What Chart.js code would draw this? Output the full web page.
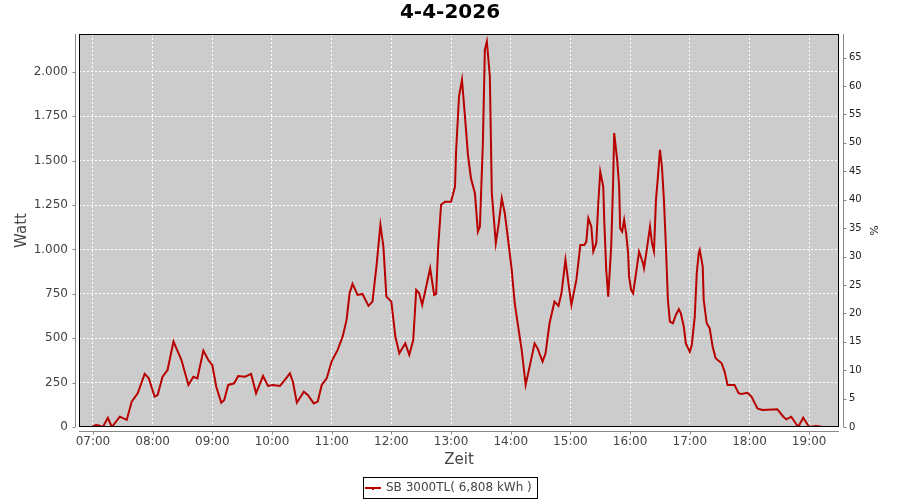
<!DOCTYPE html>
<html>
<head>
<meta charset="utf-8">
<script src="https://cdn.jsdelivr.net/npm/chart.js@4.4.1/dist/chart.umd.min.js"></script>
<style>
  html, body { margin: 0; padding: 0; background: #fff; }
</style>
</head>
<body>
<canvas id="chart" width="900" height="500"></canvas>
<script>
const chartTitle = '4-4-2026';
const seriesLabel = 'SB 3000TL( 6,808 kWh )';
const xTitle = 'Zeit';
const yTitle = 'Watt';
const y2Title = '%';

// minutes after 07:00
const minutes = [
  -1, 3, 6, 10, 15, 19, 27, 34, 39, 45, 52, 56, 62, 65, 70, 75, 81, 89, 96, 101,
  105, 111, 116, 120, 124, 129, 132, 136, 142, 146, 153, 159, 164, 171, 176, 181, 188, 193, 198, 201,
  205, 212, 216, 222, 226, 230, 235, 240, 246, 251, 255, 258, 261, 266, 271, 277, 281, 285, 289, 292,
  295, 300, 304, 308, 314, 318, 322, 325, 328, 331, 335, 339, 343, 345, 347, 350, 354, 360, 364, 365,
  368, 371, 374, 377, 380, 384, 387, 389, 392, 394, 396, 399, 401, 405, 408, 411, 414, 417, 421, 424,
  427, 431, 435, 439, 444, 447, 452, 455, 459, 464, 468, 471, 475, 478, 481, 486, 490, 494, 496, 498,
  501, 503, 506, 508, 510, 513, 514, 516, 518, 521, 523, 524, 527, 529, 530, 532, 534, 536, 538, 539,
  541, 543, 546, 549, 553, 554, 557, 560, 562, 564, 566, 568, 570, 572, 574, 576, 578, 580, 583, 586,
  589, 591, 594, 596, 600, 602, 605, 607, 609, 610, 613, 614, 617, 620, 623, 626, 632, 635, 638, 645,
  649, 652, 658, 662, 668, 673, 688, 694, 697, 702, 709, 714, 720, 727, 734
];
const watts = [
  0, 11, 8, 0, 52, 0, 58, 40, 143, 190, 299, 276, 171, 180, 283, 321, 481, 377, 237, 283,
  274, 430, 377, 349, 227, 137, 152, 237, 246, 287, 283, 299, 190, 287, 231, 237, 231, 265, 302, 255,
  137, 199, 180, 133, 143, 237, 274, 370, 434, 509, 603, 753, 806, 744, 749, 682, 706, 903, 1138, 1016,
  734, 706, 509, 415, 471, 406, 490, 772, 753, 687, 790, 894, 744, 750, 1007, 1251, 1269, 1269, 1354, 1542,
  1861, 1955, 1748, 1532, 1401, 1317, 1100, 1129, 1598, 2124, 2171, 1974, 1317, 1035, 1148, 1288, 1204, 1072, 885, 697,
  584, 434, 237, 340, 471, 443, 368, 415, 584, 706, 682, 753, 941, 810, 687, 828, 1025, 1025, 1044, 1176,
  1129, 988, 1035, 1260, 1438, 1354, 1166, 885, 734, 1016, 1392, 1655, 1504, 1354, 1119, 1100, 1166, 1091, 979, 847,
  772, 753, 866, 988, 922, 894, 1007, 1129, 1035, 988, 1279, 1410, 1561, 1467, 1279, 1016, 715, 593, 584, 631,
  663, 640, 565, 471, 424, 462, 621, 866, 979, 997, 903, 715, 584, 556, 452, 387, 359, 312, 237, 237,
  190, 186, 193, 171, 105, 96, 100, 58, 43, 58, 0, 52, 0, 6, 0
];

const hourTicks = [7, 8, 9, 10, 11, 12, 13, 14, 15, 16, 17, 18, 19];
const wattTicks = [0, 250, 500, 750, 1000, 1250, 1500, 1750, 2000];
const percentTicks = [0, 5, 10, 15, 20, 25, 30, 35, 40, 45, 50, 55, 60, 65];

const startHour = 7;
const xMin = 406;      // minutes after midnight
const xMax = 1170;
const wattMax = 2213;
const peakPower = 3200; // right axis: % of this
const fontFamily = '"DejaVu Sans", sans-serif';

function pad2(n) { return (n < 10 ? '0' : '') + n; }
function thousands(v) {
  if (v < 1000) return String(v);
  return Math.floor(v / 1000) + '.' + String(v % 1000).padStart(3, '0');
}

const frame = {
  id: 'frame',
  beforeDraw(chart) {
    const { ctx, chartArea: a } = chart;
    ctx.save();
    ctx.fillStyle = '#fff';
    ctx.fillRect(0, 0, chart.width, chart.height);
    ctx.fillStyle = '#cccccc';
    ctx.fillRect(a.left, a.top, a.right - a.left, a.bottom - a.top);
    ctx.restore();
  },
  afterDraw(chart) {
    const { ctx, chartArea: a, scales } = chart;
    ctx.save();
    // plot border
    ctx.strokeStyle = '#000';
    ctx.lineWidth = 1;
    ctx.strokeRect(a.left + 0.5, a.top + 0.5, a.right - a.left - 1, a.bottom - a.top - 1);

    // offset axis lines with ticks
    ctx.strokeStyle = '#888';
    ctx.beginPath();
    const lx = a.left - 3.5, rx = a.right + 4.5, by = a.bottom + 4.5;
    ctx.moveTo(lx, a.top); ctx.lineTo(lx, a.bottom);
    scales.y.ticks.forEach(t => {
      const p = Math.round(scales.y.getPixelForValue(t.value)) + 0.5;
      ctx.moveTo(lx - 3, p); ctx.lineTo(lx, p);
    });
    ctx.moveTo(rx, a.top); ctx.lineTo(rx, a.bottom);
    scales.y2.ticks.forEach(t => {
      const p = Math.round(scales.y2.getPixelForValue(t.value)) + 0.5;
      ctx.moveTo(rx, p); ctx.lineTo(rx + 3, p);
    });
    ctx.moveTo(a.left, by); ctx.lineTo(a.right, by);
    scales.x.ticks.forEach(t => {
      const p = Math.round(scales.x.getPixelForValue(t.value)) + 0.5;
      ctx.moveTo(p, by); ctx.lineTo(p, by + 3);
    });
    ctx.stroke();

    // titles
    ctx.fillStyle = '#000';
    ctx.font = 'bold 20px ' + fontFamily;
    ctx.textAlign = 'center';
    ctx.textBaseline = 'middle';
    ctx.fillText(chartTitle, 450, 13);

    ctx.fillStyle = '#444';
    ctx.font = '15px ' + fontFamily;
    ctx.fillText(xTitle, (a.left + a.right) / 2, 460);
    ctx.save();
    ctx.translate(22, (a.top + a.bottom) / 2);
    ctx.rotate(-Math.PI / 2);
    ctx.fillText(yTitle, 0, 0);
    ctx.restore();
    ctx.save();
    ctx.fillStyle = '#222';
    ctx.font = '11px ' + fontFamily;
    ctx.translate(873, (a.top + a.bottom) / 2);
    ctx.rotate(Math.PI / 2);
    ctx.fillText(y2Title, 0, 0);
    ctx.restore();

    // legend
    const ds = chart.data.datasets[0];
    ctx.font = '12px ' + fontFamily;
    const tw = ctx.measureText(ds.label).width;
    const w = Math.round(tw + 28), h = 21;
    const x0 = Math.round(450 - w / 2), y0 = 477;
    ctx.fillStyle = '#fff';
    ctx.fillRect(x0, y0, w, h);
    ctx.strokeStyle = '#000';
    ctx.strokeRect(x0 + 0.5, y0 + 0.5, w, h);
    ctx.strokeStyle = ds.borderColor;
    ctx.lineWidth = 2;
    ctx.beginPath();
    ctx.moveTo(x0 + 2, y0 + 11); ctx.lineTo(x0 + 18, y0 + 11);
    ctx.stroke();
    ctx.fillStyle = ds.borderColor;
    ctx.fillRect(x0 + 9, y0 + 11, 2, 2);
    ctx.fillStyle = '#444';
    ctx.textAlign = 'left';
    ctx.fillText(ds.label, x0 + 23, y0 + 11);
    ctx.restore();
  }
};

new Chart(document.getElementById('chart'), {
  type: 'line',
  data: {
    datasets: [{
      label: seriesLabel,
      data: minutes.map((m, i) => ({ x: startHour * 60 + m, y: watts[i] })),
      borderColor: '#b80000',
      borderWidth: 2,
      pointRadius: 0,
      tension: 0,
      fill: false,
      yAxisID: 'y'
    }]
  },
  options: {
    responsive: false,
    animation: false,
    devicePixelRatio: 1,
    layout: { padding: { top: 34, left: 0, right: 0, bottom: 0 } },
    plugins: {
      legend: { display: false },
      title: { display: false },
      tooltip: { enabled: false }
    },
    scales: {
      x: {
        type: 'linear',
        min: xMin,
        max: xMax,
        afterFit: s => { s.height = 73; },
        afterBuildTicks: s => { s.ticks = hourTicks.map(h => ({ value: h * 60 })); },
        ticks: {
          autoSkip: false, maxRotation: 0,
          padding: 8, color: '#444', font: { family: fontFamily, size: 12 },
          callback: v => pad2(Math.round(v / 60)) + ':00'
        },
        grid: { color: '#fff', lineWidth: 1, drawTicks: false },
        border: { display: false, dash: [2, 2] }
      },
      y: {
        position: 'left',
        min: 0,
        max: wattMax,
        afterFit: s => { s.width = 79; },
        afterBuildTicks: s => { s.ticks = wattTicks.map(v => ({ value: v })); },
        ticks: {
          padding: 11, color: '#444',
          font: { family: fontFamily, size: 12 },
          callback: v => thousands(v)
        },
        grid: { color: '#fff', lineWidth: 1, drawTicks: false },
        border: { display: false, dash: [2, 2] }
      },
      y2: {
        position: 'right',
        min: 0,
        max: wattMax / peakPower * 100,
        afterFit: s => { s.width = 61; },
        afterBuildTicks: s => { s.ticks = percentTicks.map(v => ({ value: v })); },
        ticks: {
          padding: 10, color: '#222',
          font: { family: fontFamily, size: 10 }
        },
        grid: { display: false, drawTicks: false },
        border: { display: false }
      }
    }
  },
  plugins: [frame]
});
</script>
</body>
</html>
